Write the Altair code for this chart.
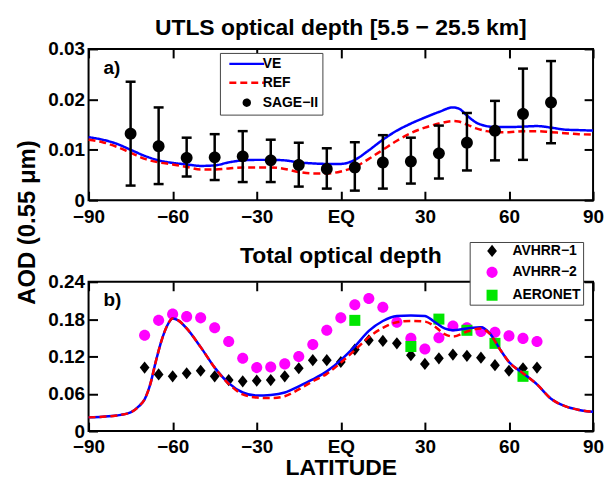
import altair as alt
import pandas as pd

FONT = "Liberation Sans"

# ---------------- Panel (a): UTLS optical depth ----------------
TITLE_A = "UTLS optical depth [5.5 \u2212 25.5 km]"
lat_a = [-90, -85, -80, -75, -70, -65, -60, -55, -50, -45, -40, -35, -30, -25, -20, -15, -10, -5, 0,
         5, 10, 15, 20, 25, 30, 35, 40, 42, 45, 48, 52, 55, 60, 65, 70, 75, 80, 85, 90]
ve_a = [0.0125, 0.0120, 0.0112, 0.0100, 0.0088, 0.0079, 0.0074, 0.0071, 0.0068, 0.0069, 0.0075, 0.0079,
        0.0080, 0.0080, 0.0079, 0.0075, 0.0073, 0.0072, 0.0072, 0.0080, 0.0099, 0.0120, 0.0138, 0.0152,
        0.0164, 0.0175, 0.0184, 0.0182, 0.0168, 0.0155, 0.0147, 0.0145, 0.0145, 0.0146, 0.0147, 0.0144,
        0.0140, 0.0139, 0.0138]
ref_a = [0.0120, 0.0115, 0.0106, 0.0094, 0.0082, 0.0075, 0.0071, 0.0066, 0.0061, 0.0061, 0.0063, 0.0065,
         0.0065, 0.0065, 0.0062, 0.0056, 0.0053, 0.0053, 0.0057, 0.0066, 0.0082, 0.0100, 0.0118, 0.0133,
         0.0144, 0.0152, 0.0157, 0.0156, 0.0150, 0.0143, 0.0137, 0.0135, 0.0135, 0.0137, 0.0137, 0.0135,
         0.0133, 0.0131, 0.0130]
sage_lat = [-75, -65, -55, -45, -35, -25, -15, -5, 5, 15, 25, 35, 45, 55, 65, 75]
sage_val = [0.0132, 0.0107, 0.0084, 0.0085, 0.0087, 0.0079, 0.0070, 0.0062, 0.0065, 0.0075, 0.0077,
            0.0093, 0.0114, 0.0138, 0.0171, 0.0194]
sage_lo = [0.0029, 0.0032, 0.0047, 0.0040, 0.0036, 0.0036, 0.0027, 0.0023, 0.0019, 0.0023, 0.0033,
           0.0043, 0.0059, 0.0079, 0.0080, 0.0113]
sage_hi = [0.0235, 0.0184, 0.0124, 0.0131, 0.0137, 0.0120, 0.0114, 0.0103, 0.0115, 0.0129, 0.0124,
           0.0148, 0.0173, 0.0197, 0.0261, 0.0276]
SERIES_A = ["VE", "REF", "SAGE\u2212II"]
Y_TICKS_A = [0, 0.01, 0.02, 0.03]

# ---------------- Panel (b): Total optical depth ----------------
TITLE_B = "Total optical depth"
lat_b = [-90, -85, -80, -75, -72, -70, -68, -66, -64, -62, -60, -58, -55, -50, -45, -40, -35, -30, -25,
         -20, -15, -10, -5, 0, 5, 10, 15, 20, 25, 30, 33, 37, 40, 45, 50, 53, 57, 60, 65, 70, 75, 80, 85, 90]
ve_b = [0.022, 0.023, 0.025, 0.030, 0.040, 0.051, 0.075, 0.112, 0.145, 0.169, 0.181, 0.178, 0.165, 0.135,
        0.102, 0.077, 0.062, 0.057, 0.058, 0.062, 0.072, 0.083, 0.096, 0.114, 0.136, 0.161, 0.177, 0.185,
        0.186, 0.185, 0.177, 0.165, 0.162, 0.165, 0.167, 0.158, 0.130, 0.111, 0.093, 0.075, 0.052, 0.040,
        0.034, 0.031]
ref_b = [0.022, 0.023, 0.025, 0.030, 0.040, 0.051, 0.075, 0.112, 0.145, 0.169, 0.181, 0.178, 0.165, 0.135,
         0.102, 0.076, 0.059, 0.054, 0.053, 0.056, 0.067, 0.080, 0.092, 0.110, 0.130, 0.151, 0.166, 0.175,
         0.177, 0.176, 0.170, 0.156, 0.152, 0.160, 0.165, 0.157, 0.130, 0.111, 0.093, 0.075, 0.052, 0.040,
         0.034, 0.031]
avhrr_lat = [-70, -65, -60, -55, -50, -45, -40, -35, -30, -25, -20, -15, -10, -5, 0, 5, 10, 15, 20, 25,
             30, 35, 40, 45, 50, 55, 60, 65, 70]
avhrr1 = [0.102, 0.091, 0.088, 0.093, 0.097, 0.088, 0.082, 0.080, 0.081, 0.082, 0.088, 0.101, 0.114,
          0.114, 0.111, 0.131, 0.146, 0.145, 0.141, 0.122, 0.108, 0.117, 0.123, 0.121, 0.118, 0.106,
          0.097, 0.101, 0.102]
avhrr2 = [0.154, 0.178, 0.188, 0.184, 0.182, 0.166, 0.144, 0.117, 0.102, 0.103, 0.108, 0.120, 0.139,
          0.162, 0.182, 0.203, 0.213, 0.199, 0.175, 0.149, 0.132, 0.150, 0.169, 0.166, 0.160, 0.159,
          0.153, 0.149, 0.144]
aeronet_lat = [5, 25, 35, 45, 55, 65]
aeronet = [0.178, 0.136, 0.180, 0.162, 0.141, 0.088]
SERIES_B = ["AVHRR\u22121", "AVHRR\u22122", "AERONET"]
Y_TICKS_B = [0, 0.06, 0.12, 0.18, 0.24]

X_TICKS = [-90, -60, -30, 0, 30, 60, 90]
PANEL_LABELS = ["a)", "b)"]
Y_TITLE = "AOD (0.55 \u03bcm)"
X_TITLE = "LATITUDE"

# ---------------- layout / style ----------------
W = 507
H_A = 152
H_B = 150
TICK_LEN = 9
BLUE, RED, BLACK = "#0000ff", "#ff0000", "#000000"
MAGENTA, GREEN = "#ff00ff", "#00e600"

LINE_PATH = "M-5,0L5,0"
DOT_PATH = "M-0.85,0A0.85,0.85 0 1,0 0.85,0A0.85,0.85 0 1,0 -0.85,0Z"
DIAMOND_PATH = "M0,-1L0.8,0L0,1L-0.8,0Z"
CIRCLE_PATH = "M-0.75,0A0.75,0.75 0 1,0 0.75,0A0.75,0.75 0 1,0 -0.75,0Z"
SQUARE_PATH = "M-0.65,-0.65L0.65,-0.65L0.65,0.65L-0.65,0.65Z"

# Axes are pulled inside the frame by TICK_LEN (negative offset) so that their ticks point inward.
TICK_STYLE = dict(ticks=True, tickSize=TICK_LEN, tickWidth=2, tickColor="black",
                  domain=False, grid=False, offset=-TICK_LEN)
LABEL_STYLE = dict(labelFont=FONT, labelFontSize=19, labelFontWeight="bold", labelColor="black",
                   labelFlush=False, labelOverlap=False)
TITLE_STYLE = dict(titleFont=FONT, titleFontWeight="bold", titleColor="black", titleBaseline="alphabetic")


def x_bottom(title=None):
    kw = dict(orient="bottom", values=X_TICKS,
              labelExpr="datum.value == 0 ? 'EQ' : format(datum.value, 'd')",
              labelPadding=7, labelBaseline="top", **TICK_STYLE, **LABEL_STYLE)
    if title:
        kw.update(title=title, titleFontSize=23, titleY=53, **TITLE_STYLE)
    else:
        kw.update(title=None)
    return alt.Axis(**kw)


def y_left(values, title=None):
    kw = dict(orient="left", values=values,
              labelExpr="datum.value == 0 ? '0' : format(datum.value, '.2f')",
              labelPadding=4, **TICK_STYLE, **LABEL_STYLE)
    if title:
        kw.update(title=title, titleFontSize=24, titleX=-63, titleY=174, titleAngle=270,
                  titleAlign="center", **TITLE_STYLE)
    else:
        kw.update(title=None)
    return alt.Axis(**kw)


def x_top():
    return alt.Axis(orient="top", values=X_TICKS, labels=False, title=None, **TICK_STYLE)


def y_right(values):
    return alt.Axis(orient="right", values=values, labels=False, title=None, **TICK_STYLE)


x_scale = alt.Scale(domain=[-90, 90], nice=False, zero=False)

# ---------------- panel (a) ----------------
df_a = pd.DataFrame({
    "lat": lat_a + lat_a,
    "aod": ve_a + ref_a,
    "series": [SERIES_A[0]] * len(lat_a) + [SERIES_A[1]] * len(lat_a),
})
df_sage = pd.DataFrame({"lat": sage_lat, "aod": sage_val, "lo": sage_lo, "hi": sage_hi,
                        "series": [SERIES_A[2]] * len(sage_lat)})
df_caps = pd.DataFrame({"lat": sage_lat + sage_lat, "aod": sage_lo + sage_hi})

legend_a = alt.Legend(orient="none", legendX=132, legendY=4, title=None,
                      padding=4, symbolOffset=16, labelOffset=9, rowPadding=5,
                      symbolSize=49, symbolStrokeWidth=2.5,
                      labelFont=FONT, labelFontSize=14, labelFontWeight="bold", labelColor="black",
                      strokeColor="#444444", fillColor="white")

color_a = alt.Scale(domain=SERIES_A, range=[BLUE, RED, BLACK])
dash_a = alt.Scale(domain=SERIES_A, range=[[1, 0], [7, 4], [1, 0]])
shape_a = alt.Scale(domain=SERIES_A, range=[LINE_PATH, LINE_PATH, DOT_PATH])
y_scale_a = alt.Scale(domain=[0, 0.03], nice=False, zero=False)

lines_a = alt.Chart(df_a).mark_line(strokeWidth=2.5, interpolate="monotone").encode(
    x=alt.X("lat:Q", scale=x_scale, axis=x_bottom()),
    y=alt.Y("aod:Q", scale=y_scale_a, axis=y_left(Y_TICKS_A, Y_TITLE)),
    color=alt.Color("series:N", scale=color_a, legend=legend_a),
    strokeDash=alt.StrokeDash("series:N", scale=dash_a, legend=legend_a),
)
bars_a = alt.Chart(df_sage).mark_rule(strokeWidth=2.5, color="black").encode(
    x=alt.X("lat:Q", axis=x_top()),
    y=alt.Y("lo:Q", axis=y_right(Y_TICKS_A)),
    y2="hi:Q")
caps_a = alt.Chart(df_caps).mark_tick(orient="horizontal", size=10, thickness=2.5, color="black",
                                      opacity=1).encode(
    x=alt.X("lat:Q", axis=None), y=alt.Y("aod:Q", axis=None))
pts_a = alt.Chart(df_sage).mark_point(filled=True, size=196, opacity=1).encode(
    x=alt.X("lat:Q", axis=None), y=alt.Y("aod:Q", axis=None),
    color=alt.Color("series:N", scale=color_a, legend=legend_a),
    shape=alt.Shape("series:N", scale=shape_a, legend=legend_a),
)
lab_a = alt.Chart(pd.DataFrame({"t": [PANEL_LABELS[0]]})).mark_text(
    font=FONT, fontSize=19, fontWeight="bold", align="left", baseline="alphabetic", color="black"
).encode(text="t:N", x=alt.value(15), y=alt.value(25))

panel_a = alt.layer(lines_a, bars_a, caps_a, pts_a, lab_a).resolve_axis(
    x="independent", y="independent"
).properties(
    width=W, height=H_A,
    title=alt.TitleParams(TITLE_A, font=FONT, fontSize=23, fontWeight="bold", color="black",
                          baseline="alphabetic", offset=-18, anchor="middle", frame="group"))

# ---------------- panel (b) ----------------
df_ve_b = pd.DataFrame({"lat": lat_b, "aod": ve_b})
df_ref_b = pd.DataFrame({"lat": lat_b, "aod": ref_b})
df_pts_b = pd.DataFrame({
    "lat": avhrr_lat + avhrr_lat + aeronet_lat,
    "aod": avhrr1 + avhrr2 + aeronet,
    "series": [SERIES_B[0]] * len(avhrr_lat) + [SERIES_B[1]] * len(avhrr_lat) + [SERIES_B[2]] * len(aeronet_lat),
})

legend_b = alt.Legend(orient="none", legendX=383, legendY=-40, title=None,
                      padding=2, symbolOffset=11, labelOffset=11, rowPadding=6,
                      symbolSize=64,
                      labelExpr="datum.label + '\u00a0\u00a0'",
                      labelFont=FONT, labelFontSize=14, labelFontWeight="bold", labelColor="black",
                      strokeColor="#444444", fillColor="white")

y_scale_b = alt.Scale(domain=[0, 0.24], nice=False, zero=False)

pts_b = alt.Chart(df_pts_b).mark_point(filled=True, opacity=1).encode(
    x=alt.X("lat:Q", scale=x_scale, axis=x_bottom(X_TITLE)),
    y=alt.Y("aod:Q", scale=y_scale_b, axis=y_left(Y_TICKS_B)),
    color=alt.Color("series:N", scale=alt.Scale(domain=SERIES_B, range=[BLACK, MAGENTA, GREEN]),
                    legend=legend_b),
    shape=alt.Shape("series:N", scale=alt.Scale(domain=SERIES_B,
                                                range=[DIAMOND_PATH, CIRCLE_PATH, SQUARE_PATH]),
                    legend=legend_b),
    size=alt.Size("series:N", scale=alt.Scale(domain=SERIES_B, range=[150, 290, 192]), legend=None),
)
ve_line_b = alt.Chart(df_ve_b).mark_line(strokeWidth=2.5, color=BLUE, interpolate="monotone").encode(
    x=alt.X("lat:Q", axis=x_top()), y=alt.Y("aod:Q", axis=y_right(Y_TICKS_B)))
ref_line_b = alt.Chart(df_ref_b).mark_line(strokeWidth=2.5, color=RED, strokeDash=[7, 4],
                                           interpolate="monotone").encode(
    x=alt.X("lat:Q", axis=None), y=alt.Y("aod:Q", axis=None))
lab_b = alt.Chart(pd.DataFrame({"t": [PANEL_LABELS[1]]})).mark_text(
    font=FONT, fontSize=19, fontWeight="bold", align="left", baseline="alphabetic", color="black"
).encode(text="t:N", x=alt.value(15), y=alt.value(24))

panel_b = alt.layer(pts_b, ve_line_b, ref_line_b, lab_b).resolve_axis(
    x="independent", y="independent"
).properties(
    width=W, height=H_B,
    title=alt.TitleParams(TITLE_B, font=FONT, fontSize=23, fontWeight="bold", color="black",
                          baseline="alphabetic", offset=-45, anchor="middle", frame="group"))

chart = alt.vconcat(panel_a, panel_b, spacing=82, bounds="flush").resolve_scale(
    color="independent", shape="independent", strokeDash="independent", size="independent"
).resolve_legend(
    color="independent", shape="independent", strokeDash="independent", size="independent"
).properties(
    padding={"left": 15, "top": 15, "right": 0, "bottom": 0}
).configure(font=FONT, background="white").configure_view(stroke="black", strokeWidth=2)

chart.save("out.html", embed_options={"renderer": "svg", "actions": False})
